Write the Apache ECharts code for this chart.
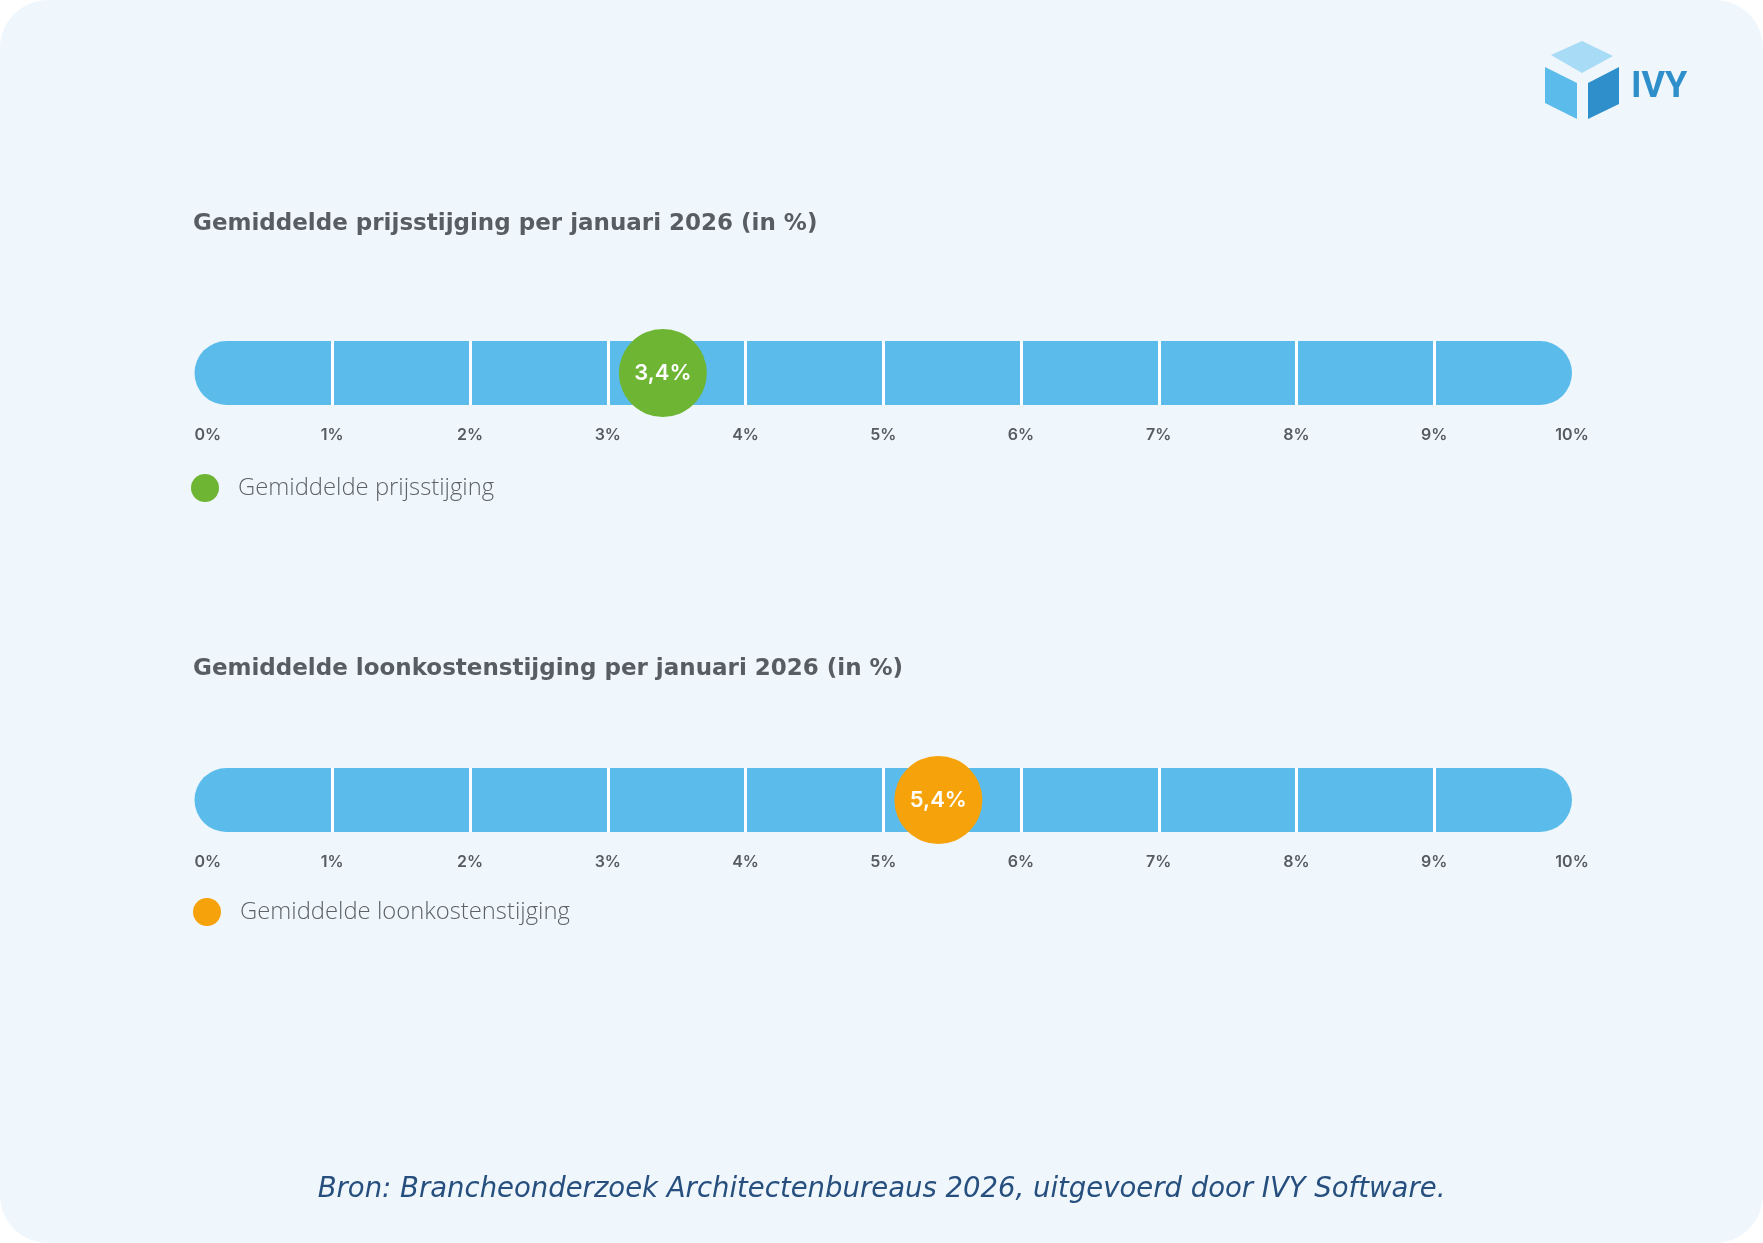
<!DOCTYPE html>
<html>
<head>
<meta charset="utf-8">
<script src="https://cdn.jsdelivr.net/npm/echarts@6/dist/echarts.min.js"></script>
<style>
  html, body { margin: 0; padding: 0; background: #ffffff; }
  #chart { width: 1763px; height: 1243px; }
</style>
</head>
<body>
<div id="chart"></div>
<script>
// ---- data ----
const chartTitles = [
  'Gemiddelde prijsstijging per januari 2026 (in %)',
  'Gemiddelde loonkostenstijging per januari 2026 (in %)'
];
const seriesNames = ['Gemiddelde prijsstijging', 'Gemiddelde loonkostenstijging'];
const seriesValues = [3.4, 5.4];
const markerColors = ['#6db533', '#f6a20b'];
const scaleMin = 0;
const scaleMax = 10;
const scaleStep = 1;
const sourceText = 'Bron: Brancheonderzoek Architectenbureaus 2026, uitgevoerd door IVY Software.';

// ---- layout ----
const gridTops = [341, 768];
const titleTops = [212.5, 657.5];
const legendTops = [474, 898];
const legendLefts = [191, 193];
const barHeight = 64;

const fmtPct = v => String(v).replace('.', ',') + '%';

const grids = gridTops.map(t => ({ left: 194.5, right: 191, top: t, height: barHeight }));
const xAxes = gridTops.map((t, i) => ({
  type: 'value', gridIndex: i, min: scaleMin, max: scaleMax, interval: scaleStep, z: 2,
  axisLine: { show: false }, axisTick: { show: false },
  splitLine: { show: true, showMinLine: false, showMaxLine: false, lineStyle: { color: '#ffffff', width: 3 } },
  axisLabel: {
    margin: 22, formatter: v => v + '%', color: '#555b61', fontSize: 16, fontWeight: 600,
    fontFamily: 'Inter', alignMinLabel: 'left', alignMaxLabel: 'center'
  }
}));
const yAxes = gridTops.map((t, i) => ({
  type: 'category', gridIndex: i, data: ['x'], show: false
}));

const series = [];
seriesValues.forEach((v, i) => {
  series.push({
    type: 'bar', xAxisIndex: i, yAxisIndex: i, data: [scaleMax], barWidth: barHeight, z: 1,
    silent: true, itemStyle: { color: '#5bbceb', borderRadius: barHeight / 2 }
  });
  series.push({
    name: seriesNames[i], type: 'scatter', xAxisIndex: i, yAxisIndex: i, z: 5,
    symbol: 'circle', symbolSize: 88, data: [[v, 0]],
    itemStyle: { color: markerColors[i], opacity: 1 },
    label: {
      show: true, position: 'inside', formatter: p => fmtPct(p.value[0]),
      color: '#ffffff', fontSize: 22, fontWeight: 600, fontFamily: 'Inter'
    }
  });
});

const titles = chartTitles.map((t, i) => ({
  text: t, left: 193, top: titleTops[i], padding: 0,
  textStyle: { fontFamily: 'DejaVu Sans', fontWeight: 'bold', fontSize: 23, color: '#575d63' }
}));
titles.push({
  text: sourceText, left: 'center', top: 1176, padding: 0,
  textStyle: { fontFamily: 'DejaVu Sans', fontStyle: 'italic', fontWeight: 'normal', fontSize: 27.5, color: '#274f7e' }
});

const legends = seriesNames.map((n, i) => ({
  data: [n], left: legendLefts[i], top: legendTops[i], padding: 0, orient: 'horizontal',
  icon: 'circle', itemWidth: 28, itemHeight: 28, selectedMode: false,
  textStyle: { fontFamily: 'Open Sans', fontWeight: 300, fontSize: 23.8, color: '#5c6268', padding: [14, 0, 0, 14] }
}));

const chart = echarts.init(document.getElementById('chart'), null, { renderer: 'canvas' });
chart.setOption({
  animation: false,
  backgroundColor: 'transparent',
  title: titles,
  legend: legends,
  grid: grids,
  xAxis: xAxes,
  yAxis: yAxes,
  series: series,
  graphic: [
    { type: 'rect', z: -10, silent: true, shape: { x: 0, y: 0, width: 1763, height: 1243, r: 48 }, style: { fill: '#eff7fd' } },
    { type: 'polygon', z: 10, silent: true, shape: { points: [[1551, 55], [1582, 41], [1613, 56], [1582, 73]] }, style: { fill: '#a8dbf5' } },
    { type: 'polygon', z: 10, silent: true, shape: { points: [[1545, 67], [1577, 83], [1577, 119], [1545, 103]] }, style: { fill: '#5bbceb' } },
    { type: 'polygon', z: 10, silent: true, shape: { points: [[1588, 83], [1619, 67], [1619, 104], [1588, 119]] }, style: { fill: '#2f8fcb' } },
    { type: 'text', z: 10, silent: true, left: 1631, top: 70, style: { text: 'IVY', fill: '#2f8fcb', font: 'bold 36px Roboto' } }
  ]
});
</script>
</body>
</html>
